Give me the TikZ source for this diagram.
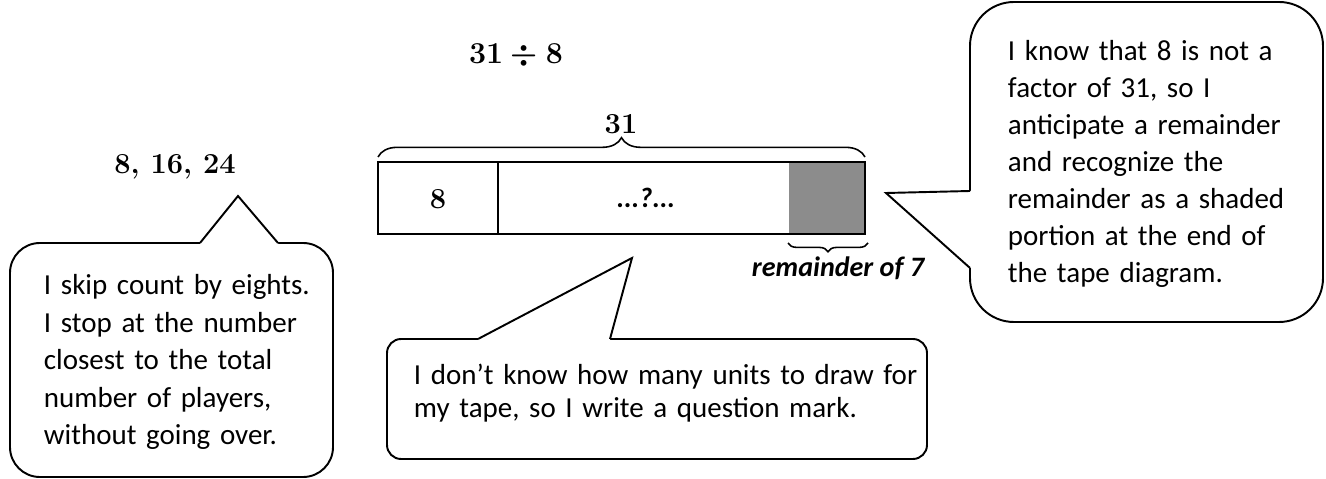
\documentclass[tikz,border=0pt]{standalone}
\usepackage{fontspec}
\newfontfamily\calibri{Carlito}
\usetikzlibrary{decorations.pathreplacing}

\definecolor{shadegray}{RGB}{140,140,140}

\begin{document}
\begin{tikzpicture}[x=0.02cm, y=-0.02cm, line width=1.1pt,
    bubble/.style={draw, fill=white},
    note/.style={font=\calibri\fontsize{16.5}{#1}\selectfont, align=left, anchor=base west, inner sep=0pt, text width=12cm},
    bignum/.style={font=\fontsize{16.5}{19}\selectfont\bfseries\boldmath, inner sep=0pt},
    tapelabel/.style={font=\calibri\fontsize{16}{19}\selectfont\bfseries\itshape, inner sep=0pt}]
    \useasboundingbox (0,0) rectangle (1326,479);
    \node[bignum] (division) at (516,56) {$31\div 8$};
    % the tape
    \coordinate (tapeNW) at (378,162);
    \coordinate (tapeSE) at (865,234);
    \coordinate (shadeNW) at (789,162);
    \coordinate (cutN) at (498,162);
    \coordinate (cutS) at (498,234);
    \fill[shadegray] (shadeNW) rectangle (tapeSE);
    \draw (tapeNW) rectangle (tapeSE);
    \draw (cutN) -- (cutS);
    \node[bignum] (unit) at (438,199) {8};
    \node[tapelabel] (unknown) at (646,198) {...?...};
    \coordinate (braceL) at (378,157);
    \coordinate (braceR) at (865,157);
    \draw[decorate, decoration={brace, amplitude=11pt}, line width=0.9pt] (braceL) -- (braceR);
    \node[bignum, above] (total) at (621,135) {31};
    \coordinate (remL) at (788,243);
    \coordinate (remR) at (868,243);
    \draw[decorate, decoration={brace, amplitude=5pt}, line width=0.9pt] (remR) -- (remL);
    \node[tapelabel] (remainder) at (838,268) {remainder of 7};
    % skip counting
    \node[bignum] (skips) at (175,167) {8, 16, 24};
    \draw[bubble, rounded corners=17pt] (10,243) rectangle (333,477);
    \coordinate (skipA) at (200,243);
    \coordinate (skipTip) at (238,196);
    \coordinate (skipB) at (278,243);
    \fill[white] (200,245.5) -- (skipA) -- (skipTip) -- (skipB) -- (278,245.5) -- cycle;
    \draw (skipA) -- (skipTip) -- (skipB);
    \node[note=21.3] (skipnote) at (43,295) {I skip count by eights.\\ I stop at the number\\ closest to the total\\ number of players,\\ without going over.};
    % question mark
    \draw[bubble, rounded corners=8pt] (387,339) rectangle (927,459);
    \coordinate (unkA) at (478,339);
    \coordinate (unkTip) at (632,258);
    \coordinate (unkB) at (610,339);
    \fill[white] (478,341.5) -- (unkA) -- (unkTip) -- (unkB) -- (610,341.5) -- cycle;
    \draw (unkA) -- (unkTip) -- (unkB);
    \node[note=18.7] (tapenote) at (413,385) {I don’t know how many units to draw for\\ my tape, so I write a question mark.};
    % remainder
    \draw[bubble, rounded corners=25pt] (970,2) rectangle (1323,322);
    \coordinate (remA) at (970,191);
    \coordinate (remTip) at (886,193);
    \coordinate (remB) at (970,268);
    \fill[white] (972.5,191) -- (remA) -- (remTip) -- (remB) -- (972.5,268) -- cycle;
    \draw (remA) -- (remTip) -- (remB);
    \node[note=21] (factornote) at (1007,61) {I know that 8 is not a\\ factor of 31, so I\\ anticipate a remainder\\ and recognize the\\ remainder as a shaded\\ portion at the end of\\ the tape diagram.};
\end{tikzpicture}
\end{document}
